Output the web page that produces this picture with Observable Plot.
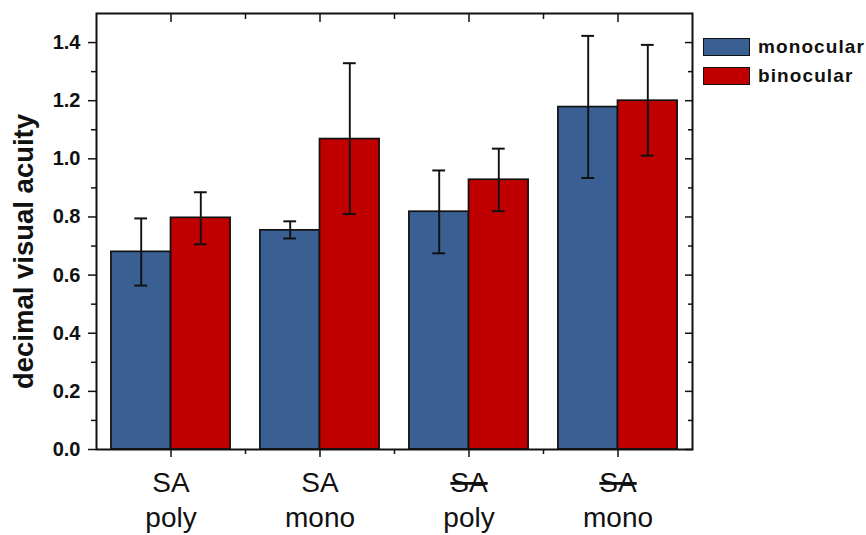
<!DOCTYPE html>
<html>
<head>
<meta charset="utf-8">
<script src="https://cdn.jsdelivr.net/npm/d3@7"></script>
<script src="https://cdn.jsdelivr.net/npm/@observablehq/plot@0.6"></script>
<style>
  html, body { margin: 0; padding: 0; background: #fff; }
  #wrap { position: relative; width: 866px; height: 535px; font-family: "Liberation Sans", Arial, sans-serif; }
  #legend { position: absolute; left: 703px; top: 32px; }
  .item { display: flex; align-items: center; height: 29px; }
  .sw { width: 45px; height: 16px; border: 1.5px solid #111; margin-right: 8px; }
  .lab { font-weight: bold; font-size: 19px; color: #111; letter-spacing: 1.1px; }
</style>
</head>
<body>
<div id="wrap"></div>
<script>
// ---- data ----
const groups = ["SA\npoly", "SA\nmono", "SA\npoly", "SA\nmono"];
const struck = [false, false, true, true];   // "SA" crossed out
const series = ["monocular", "binocular"];
const colors = ["#3a6093", "#c00000"];
const monoMean = [0.680, 0.754, 0.818, 1.178];
const monoLo   = [0.564, 0.726, 0.675, 0.934];
const monoHi   = [0.795, 0.785, 0.960, 1.423];
const binoMean = [0.797, 1.068, 0.928, 1.200];
const binoLo   = [0.706, 0.810, 0.820, 1.011];
const binoHi   = [0.885, 1.329, 1.035, 1.392];
const yLabel = "decimal visual acuity";

// ---- table built from the arrays ----
const barW = 0.4;
const rows = [];
groups.forEach((g, i) => {
  [[monoMean, monoLo, monoHi], [binoMean, binoLo, binoHi]].forEach(([m, lo, hi], s) => {
    const x1 = i - barW + s * barW;
    rows.push({group: i, series: series[s], x1, x2: x1 + barW, c: x1 + barW / 2,
               value: m[i], lo: lo[i], hi: hi[i]});
  });
});
const cap = 0.043;
const none = () => "";

const font = "Liberation Sans, Arial, sans-serif";
const chart = Plot.plot({
  width: 866,
  height: 535,
  marginLeft: 96,
  marginRight: 174,
  marginTop: 13,
  marginBottom: 86,
  style: {fontFamily: font, color: "#111", background: "#fff"},
  x: {domain: [-0.5, groups.length - 0.5]},
  y: {domain: [0, 1.5]},
  color: {domain: series, range: colors},
  marks: [
    Plot.rectY(rows, {x1: "x1", x2: "x2", y: "value", fill: "series", stroke: "#111", strokeWidth: 1.7}),
    Plot.ruleX(rows, {x: "c", y1: "lo", y2: "hi", stroke: "#111", strokeWidth: 1.9}),
    Plot.ruleY(rows, {y: "hi", x1: d => d.c - cap, x2: d => d.c + cap, stroke: "#111", strokeWidth: 2}),
    Plot.ruleY(rows, {y: "lo", x1: d => d.c - cap, x2: d => d.c + cap, stroke: "#111", strokeWidth: 2}),
    // left axis: labels + major ticks, minor ticks
    Plot.axisY({anchor: "left", ticks: d3.range(0, 1.41, 0.2), tickSize: 8, tickPadding: 8,
                tickFormat: d3.format(".1f"), fontSize: 20, fontWeight: "bold", label: null, strokeWidth: 1.5}),
    Plot.axisY({anchor: "left", ticks: d3.range(0.1, 1.41, 0.2), tickSize: 5, tickFormat: none, label: null, strokeWidth: 1.5}),
    // right axis: inward ticks
    Plot.axisY({anchor: "right", ticks: d3.range(0, 1.41, 0.2), tickSize: -8, tickFormat: none, label: null, strokeWidth: 1.5}),
    Plot.axisY({anchor: "right", ticks: d3.range(0.1, 1.41, 0.2), tickSize: -5, tickFormat: none, label: null, strokeWidth: 1.5}),
    // bottom axis
    Plot.axisX({anchor: "bottom", ticks: d3.range(groups.length), tickSize: 8, tickPadding: 9,
                tickFormat: i => groups[i], fontSize: 28, lineHeight: 1.27, label: null, strokeWidth: 1.5}),
    Plot.axisX({anchor: "bottom", ticks: d3.range(0.5, groups.length - 1, 1), tickSize: 5, tickFormat: none, label: null, strokeWidth: 1.5}),
    // top axis: inward ticks
    Plot.axisX({anchor: "top", ticks: d3.range(groups.length), tickSize: -8, tickFormat: none, label: null, strokeWidth: 1.5}),
    Plot.axisX({anchor: "top", ticks: d3.range(0.5, groups.length - 1, 1), tickSize: -5, tickFormat: none, label: null, strokeWidth: 1.5}),
    Plot.frame({stroke: "#111", strokeWidth: 2}),
    Plot.text([yLabel], {frameAnchor: "left", text: d => d, rotate: -90, textAnchor: "middle", dx: -72, dy: 20,
                         fontSize: 27.5, fontWeight: "bold", fill: "#111"})
  ]
});

// strike through "SA" for the last two groups
const xLabels = chart.querySelectorAll('g[aria-label="x-axis tick label"] text');
xLabels.forEach((t, i) => {
  if (struck[i]) {
    const ts = t.querySelector("tspan");
    if (ts) ts.setAttribute("text-decoration", "line-through");
  }
});

const wrap = document.getElementById("wrap");
wrap.appendChild(chart);

// legend
const legend = document.createElement("div");
legend.id = "legend";
series.forEach((s, i) => {
  const item = document.createElement("div");
  item.className = "item";
  item.innerHTML = `<div class="sw" style="background:${colors[i]}"></div><span class="lab">${s}</span>`;
  legend.appendChild(item);
});
wrap.appendChild(legend);
</script>
</body>
</html>
